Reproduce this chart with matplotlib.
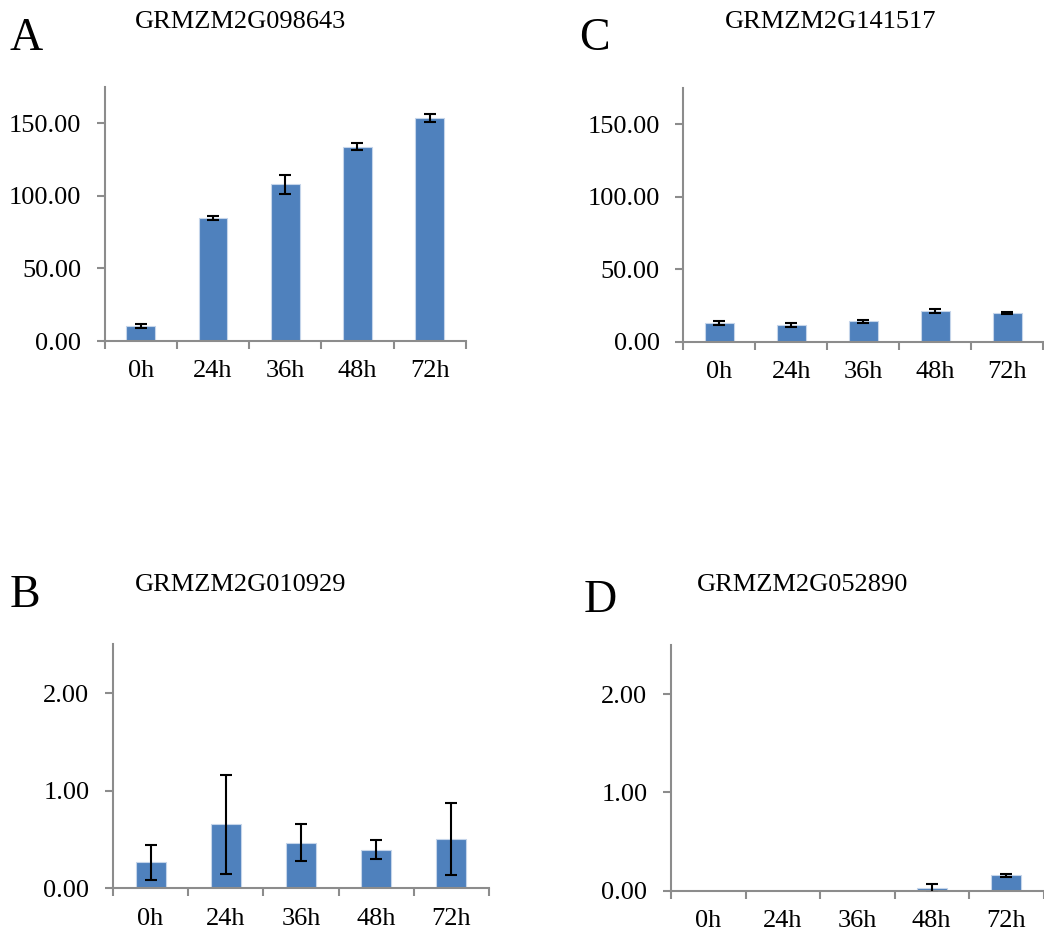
import matplotlib
matplotlib.use("Agg")
import matplotlib.pyplot as plt
import numpy as np

plt.rcParams['font.family'] = ['Liberation Serif', 'DejaVu Serif']

W, H = 1044, 935

times = ["0h", "24h", "36h", "48h", "72h"]

# panel A
a_gene = "GRMZM2G098643"
a_vals = [10.3, 84.8, 107.8, 133.6, 153.4]
a_err = [1.3, 1.5, 6.3, 2.5, 3.0]

# panel C
c_gene = "GRMZM2G141517"
c_vals = [12.9, 11.7, 14.0, 21.2, 19.8]
c_err = [1.6, 1.4, 1.0, 1.4, 1.0]

# panel B
b_gene = "GRMZM2G010929"
b_vals = [0.266, 0.656, 0.468, 0.396, 0.505]
b_err = [0.18, 0.505, 0.19, 0.10, 0.37]

# panel D
d_gene = "GRMZM2G052890"
d_vals = [0.0, 0.0, 0.0, 0.026, 0.156]
d_err = [0.0, 0.0, 0.0, 0.045, 0.012]

BAR = "#4F81BD"
AXC = "#8C8C8C"


def px_axes(fig, left, top, right, bottom):
    return fig.add_axes([left / W, 1 - bottom / H, (right - left) / W, (bottom - top) / H])


def draw_panel(fig, rect, vals, err, ymax, yticks, fmt):
    ax = px_axes(fig, *rect)
    x = np.arange(len(vals))
    ax.bar(x, vals, width=0.4, color=BAR, edgecolor="#c5d5ea", linewidth=0.8, zorder=2)
    e = np.array(err)
    m = e > 0
    ax.errorbar(x[m], np.array(vals)[m], yerr=e[m], fmt="none", ecolor="black",
                elinewidth=1.5, capsize=4.5, capthick=1.5, zorder=3)
    ax.set_xlim(-0.5, len(vals) - 0.5)
    ax.set_ylim(0, ymax)
    ax.set_yticks(yticks)
    ax.set_yticklabels([fmt % t for t in yticks])
    ax.set_xticks(x)
    ax.set_xticklabels(times)
    ax.set_xticks(np.arange(-0.5, len(vals)), minor=True)
    for s in ["top", "right"]:
        ax.spines[s].set_visible(False)
    for s in ["left", "bottom"]:
        ax.spines[s].set_color(AXC)
        ax.spines[s].set_linewidth(1.5)
    ax.tick_params(axis="y", direction="out", length=6, width=1.5, color=AXC,
                   labelsize=19, pad=11)
    ax.tick_params(axis="x", which="major", length=0, labelsize=19, pad=14)
    ax.tick_params(axis="x", which="minor", direction="out", length=6, width=1.5, color=AXC)
    return ax


fig = plt.figure(figsize=(W / 100, H / 100), dpi=100)

draw_panel(fig, (104.7, 86.7, 465.7, 341), a_vals, a_err, 175, [0, 50, 100, 150], "%.2f")
draw_panel(fig, (683.3, 88, 1043.3, 341.7), c_vals, c_err, 175, [0, 50, 100, 150], "%.2f")
draw_panel(fig, (113, 644.3, 489, 888.3), b_vals, b_err, 2.5, [0, 1, 2], "%.2f")
draw_panel(fig, (671, 645, 1043.5, 890.8), d_vals, d_err, 2.5, [0, 1, 2], "%.2f")


def ftext(x, y, s, size):
    fig.text(x / W, 1 - y / H, s, fontsize=size, ha="left", va="baseline")


ftext(10, 50, "A", 33)
ftext(135, 28.3, a_gene, 19)
ftext(579, 50, "C", 33)
ftext(725, 28.3, c_gene, 19)
ftext(10, 607, "B", 33)
ftext(135, 590.7, b_gene, 19)
ftext(584, 611.7, "D", 33)
ftext(697, 590.7, d_gene, 19)

fig.savefig("out.png", dpi=100)
